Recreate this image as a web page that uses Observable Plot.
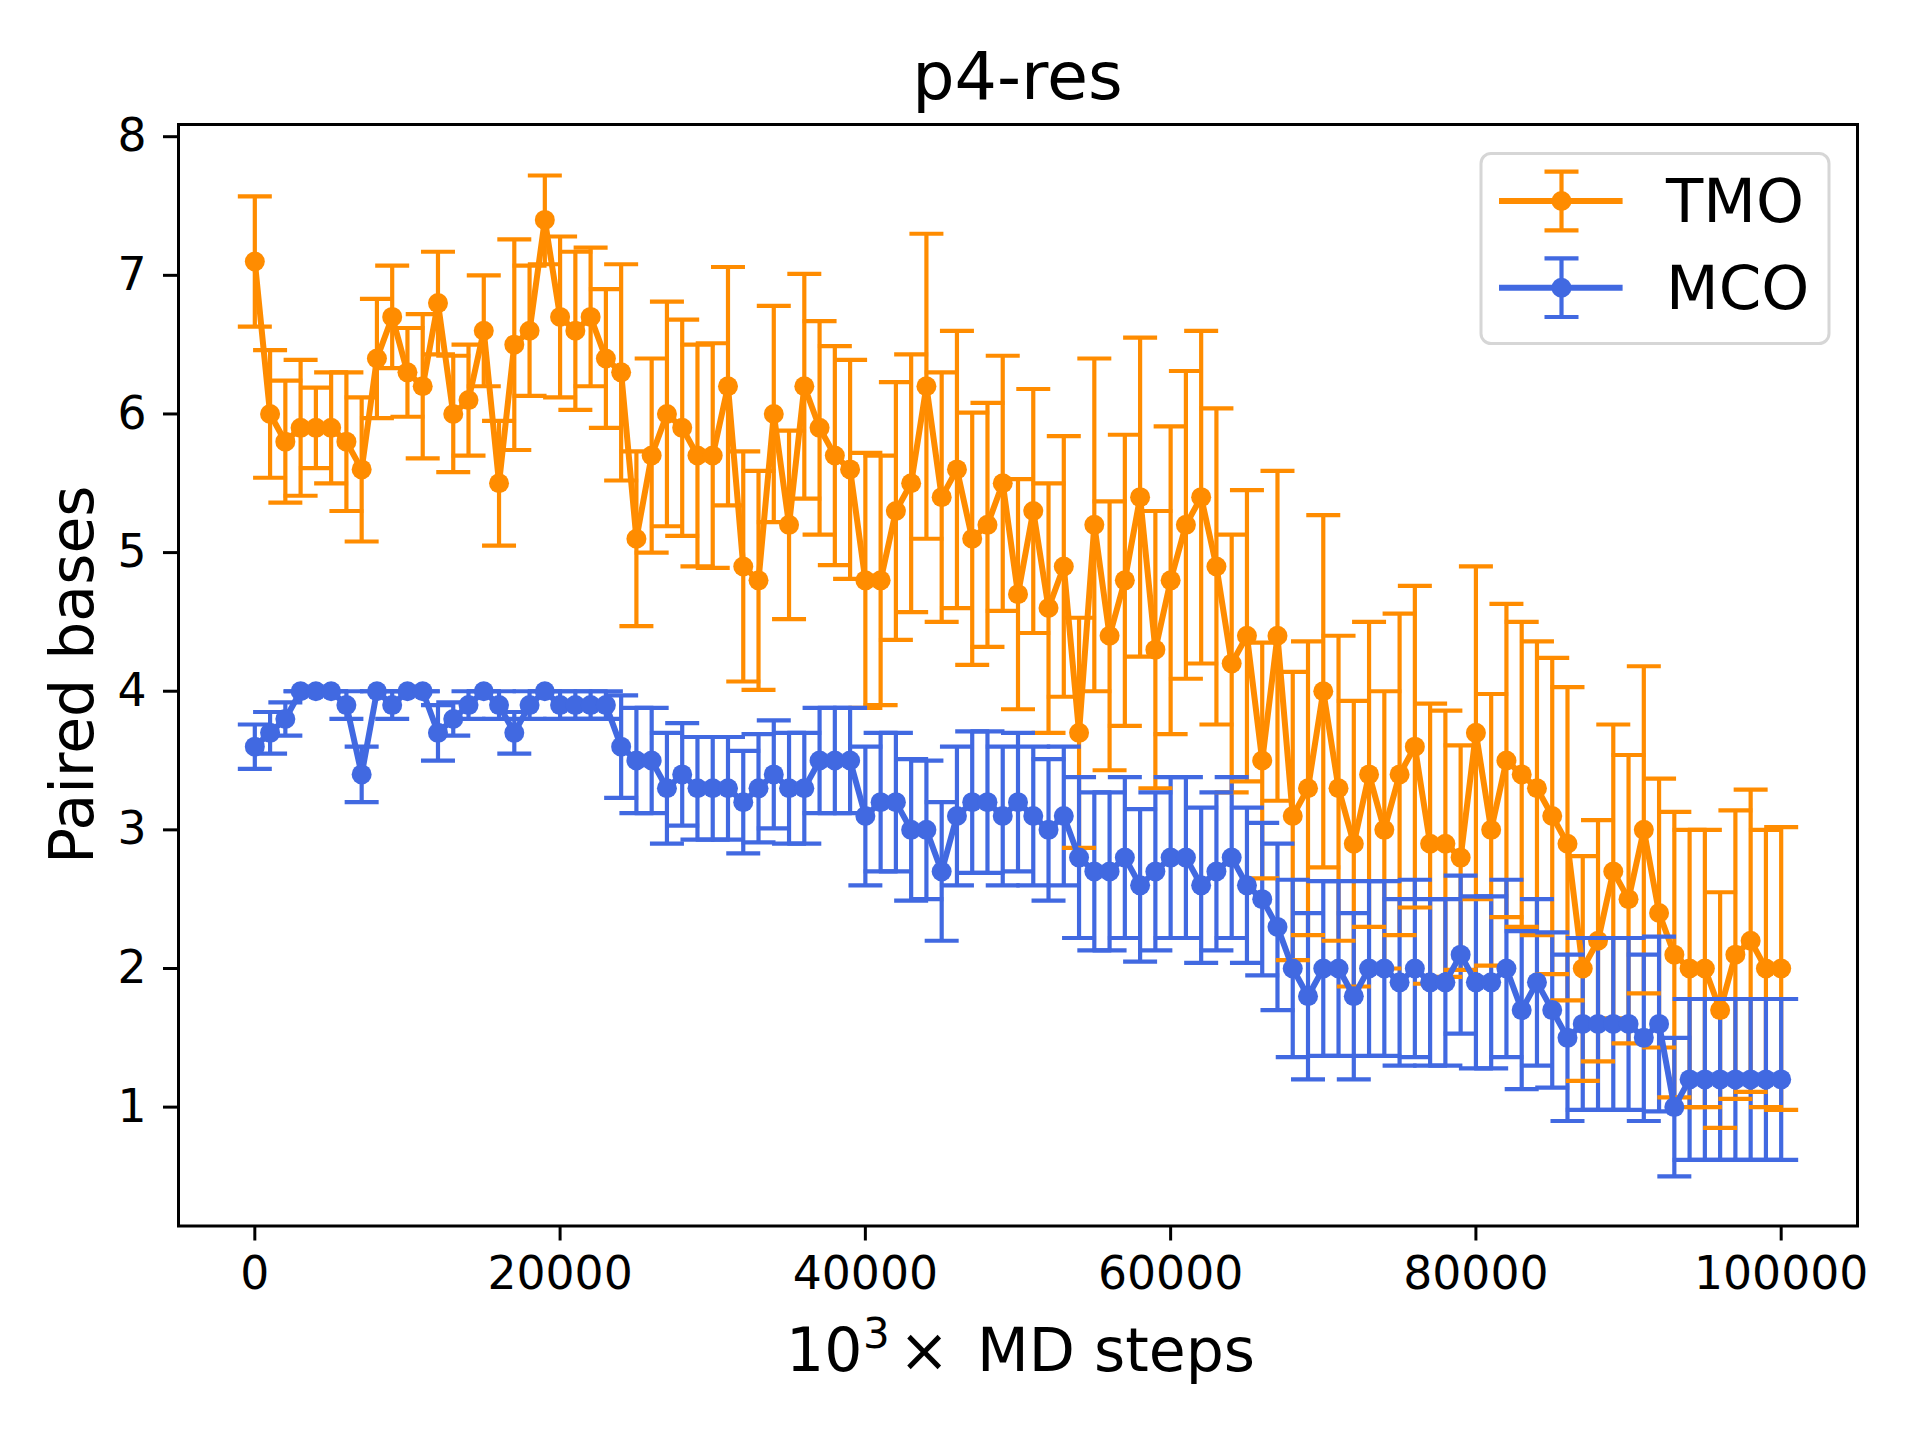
<!DOCTYPE html>
<html>
<head>
<meta charset="utf-8">
<script src="https://cdn.jsdelivr.net/npm/d3@7"></script>
<script src="https://cdn.jsdelivr.net/npm/@observablehq/plot@0.6"></script>
<style>
  html, body { margin: 0; padding: 0; background: #ffffff; }
  #chart svg { display: block; }
</style>
</head>
<body>
<div id="chart"></div>
<script>
// ---------- data ----------
const steps = [
  0,1000,2000,3000,4000,5000,6000,7000,8000,9000,
  10000,11000,12000,13000,14000,15000,16000,17000,18000,19000,
  20000,21000,22000,23000,24000,25000,26000,27000,28000,29000,
  30000,31000,32000,33000,34000,35000,36000,37000,38000,39000,
  40000,41000,42000,43000,44000,45000,46000,47000,48000,49000,
  50000,51000,52000,53000,54000,55000,56000,57000,58000,59000,
  60000,61000,62000,63000,64000,65000,66000,67000,68000,69000,
  70000,71000,72000,73000,74000,75000,76000,77000,78000,79000,
  80000,81000,82000,83000,84000,85000,86000,87000,88000,89000,
  90000,91000,92000,93000,94000,95000,96000,97000,98000,99000,
  100000
];

const tmoMean = [
  7.1,6.0,5.8,5.9,5.9,5.9,5.8,5.6,6.4,6.7,
  6.3,6.2,6.8,6.0,6.1,6.6,5.5,6.5,6.6,7.4,
  6.7,6.6,6.7,6.4,6.3,5.1,5.7,6.0,5.9,5.7,
  5.7,6.2,4.9,4.8,6.0,5.2,6.2,5.9,5.7,5.6,
  4.8,4.8,5.3,5.5,6.2,5.4,5.6,5.1,5.2,5.5,
  4.7,5.3,4.6,4.9,3.7,5.2,4.4,4.8,5.4,4.3,
  4.8,5.2,5.4,4.9,4.2,4.4,3.5,4.4,3.1,3.3,
  4.0,3.3,2.9,3.4,3.0,3.4,3.6,2.9,2.9,2.8,
  3.7,3.0,3.5,3.4,3.3,3.1,2.9,2.0,2.2,2.7,
  2.5,3.0,2.4,2.1,2.0,2.0,1.7,2.1,2.2,2.0,
  2.0
];

const tmoErr = [
  0.47,0.46,0.44,0.49,0.29,0.40,0.50,0.52,0.43,0.37,
  0.32,0.52,0.37,0.42,0.40,0.40,0.45,0.76,0.47,0.32,
  0.58,0.57,0.50,0.50,0.78,0.63,0.70,0.81,0.78,0.80,
  0.81,0.86,0.83,0.79,0.78,0.68,0.81,0.77,0.79,0.79,
  0.92,0.90,0.93,0.93,1.10,0.90,1.00,0.91,0.88,0.92,
  0.83,0.88,0.90,0.94,0.83,1.20,0.97,1.05,1.15,1.00,
  1.11,1.11,1.20,1.14,0.93,1.05,0.85,1.19,1.04,1.06,
  1.27,1.10,1.03,1.10,1.00,1.16,1.16,1.01,0.96,0.81,
  1.20,0.98,1.13,1.10,1.06,1.14,1.13,0.81,0.87,1.06,
  1.04,1.18,0.97,1.03,1.00,1.00,0.85,1.04,1.09,1.00,
  1.02
];

const mcoMean = [
  3.6,3.7,3.8,4.0,4.0,4.0,3.9,3.4,4.0,3.9,
  4.0,4.0,3.7,3.8,3.9,4.0,3.9,3.7,3.9,4.0,
  3.9,3.9,3.9,3.9,3.6,3.5,3.5,3.3,3.4,3.3,
  3.3,3.3,3.2,3.3,3.4,3.3,3.3,3.5,3.5,3.5,
  3.1,3.2,3.2,3.0,3.0,2.7,3.1,3.2,3.2,3.1,
  3.2,3.1,3.0,3.1,2.8,2.7,2.7,2.8,2.6,2.7,
  2.8,2.8,2.6,2.7,2.8,2.6,2.5,2.3,2.0,1.8,
  2.0,2.0,1.8,2.0,2.0,1.9,2.0,1.9,1.9,2.1,
  1.9,1.9,2.0,1.7,1.9,1.7,1.5,1.6,1.6,1.6,
  1.6,1.5,1.6,1.0,1.2,1.2,1.2,1.2,1.2,1.2,
  1.2
];

const mcoErr = [
  0.16,0.15,0.12,0.00,0.00,0.00,0.10,0.20,0.00,0.10,
  0.00,0.00,0.20,0.12,0.10,0.00,0.10,0.15,0.10,0.00,
  0.10,0.10,0.10,0.10,0.37,0.38,0.38,0.40,0.37,0.37,
  0.37,0.37,0.37,0.39,0.39,0.40,0.40,0.38,0.38,0.38,
  0.50,0.50,0.50,0.51,0.50,0.50,0.50,0.51,0.51,0.50,
  0.50,0.50,0.51,0.50,0.58,0.57,0.57,0.58,0.55,0.57,
  0.58,0.58,0.56,0.57,0.58,0.56,0.55,0.60,0.64,0.60,
  0.63,0.63,0.60,0.63,0.63,0.60,0.64,0.60,0.60,0.57,
  0.62,0.62,0.64,0.57,0.60,0.56,0.60,0.62,0.62,0.62,
  0.62,0.60,0.63,0.50,0.58,0.58,0.58,0.58,0.58,0.58,
  0.58
];

const seriesNames = ["TMO", "MCO"];
const xTicks = [0, 20000, 40000, 60000, 80000, 100000];
const yTicks = [1, 2, 3, 4, 5, 6, 7, 8];
const titleText = "p4-res";
const yLabelText = "Paired bases";

// ---------- styles ----------
const ORANGE = "#ff8c00";
const BLUE = "#4169e1";
const FONT = "DejaVu Sans";

const toRows = (means, errs) => steps.map((s, i) => ({
  step: s, mean: means[i], lo: means[i] - errs[i], hi: means[i] + errs[i]
}));
const tmoRows = toRows(tmoMean, tmoErr);
const mcoRows = toRows(mcoMean, mcoErr);

// horizontal cap symbol (half-width = r)
const capSymbol = {
  draw(ctx, size) {
    const w = Math.sqrt(size / Math.PI);
    ctx.moveTo(-w, 0);
    ctx.lineTo(w, 0);
  }
};

const CAP_R = 17, BAR_W = 4.2, LINE_W = 6, DOT_R = 10;

const capsFor = (rows, color) => [
  Plot.dot(rows, {x: "step", y: "lo", symbol: capSymbol, r: CAP_R, stroke: color, strokeWidth: BAR_W, fill: "none"}),
  Plot.dot(rows, {x: "step", y: "hi", symbol: capSymbol, r: CAP_R, stroke: color, strokeWidth: BAR_W, fill: "none"})
];
const lineFor = (rows, color) => [
  Plot.line(rows, {x: "step", y: "mean", stroke: color, strokeWidth: LINE_W, strokeLinejoin: "round"}),
  Plot.dot(rows, {x: "step", y: "mean", r: DOT_R, fill: color, stroke: "none"})
];

const W = 1920, H = 1440;
const mL = 178, mR = 63, mT = 124, mB = 214.5;

const svg = Plot.plot({
  width: W,
  height: H,
  marginLeft: mL,
  marginRight: mR,
  marginTop: mT,
  marginBottom: mB,
  style: {fontFamily: FONT, background: "#ffffff", color: "#000000"},
  x: {domain: [-5000, 105000]},
  y: {domain: [0.1425, 8.088]},
  marks: [
    Plot.ruleX(tmoRows, {x: "step", y1: "lo", y2: "hi", stroke: ORANGE, strokeWidth: BAR_W}),
    Plot.ruleX(mcoRows, {x: "step", y1: "lo", y2: "hi", stroke: BLUE, strokeWidth: BAR_W}),
    ...capsFor(tmoRows, ORANGE),
    ...lineFor(tmoRows, ORANGE),
    ...capsFor(mcoRows, BLUE),
    ...lineFor(mcoRows, BLUE),
    Plot.axisX({ticks: xTicks, tickFormat: d => String(d), tickSize: 15, tickPadding: 16,
                fontSize: 45.7, strokeWidth: 3, label: null}),
    Plot.axisY({ticks: yTicks, tickFormat: d => String(d), tickSize: 15, tickPadding: 17,
                fontSize: 45.7, strokeWidth: 3, label: null}),
    Plot.frame({stroke: "#000000", strokeWidth: 3})
  ]
});

const s = d3.select(svg);
const plotCx = (mL + (W - mR)) / 2;

// title
s.append("text")
  .attr("x", plotCx).attr("y", 99.3)
  .attr("text-anchor", "middle")
  .attr("font-family", FONT).attr("font-size", 66.7).attr("fill", "#000")
  .text(titleText);

// x label: 10^3 ×  MD steps
const xl = s.append("text")
  .attr("y", 1371)
  .attr("text-anchor", "start")
  .attr("font-family", FONT).attr("font-size", 60).attr("fill", "#000");
xl.append("tspan").attr("x", 786).text("10");
xl.append("tspan").attr("x", 863).attr("font-size", 42).attr("dy", -23).text("3");
xl.append("tspan").attr("x", 899).attr("dy", 23).text("\u00d7");
xl.append("tspan").attr("x", 977).text("MD steps");

// y label
s.append("text")
  .attr("transform", `translate(93,${(mT + (H - mB)) / 2}) rotate(-90)`)
  .attr("text-anchor", "middle")
  .attr("font-family", FONT).attr("font-size", 60).attr("fill", "#000")
  .text(yLabelText);

// legend
const lg = s.append("g");
lg.append("rect")
  .attr("x", 1481).attr("y", 153.5).attr("width", 348).attr("height", 190)
  .attr("rx", 10).attr("ry", 10)
  .attr("fill", "#ffffff").attr("fill-opacity", 0.8)
  .attr("stroke", "#d6d6d6").attr("stroke-width", 3);

const legendItems = [
  {name: seriesNames[0], color: ORANGE, y: 201},
  {name: seriesNames[1], color: BLUE, y: 287.7}
];
legendItems.forEach(it => {
  const g = lg.append("g");
  g.append("line").attr("x1", 1499).attr("x2", 1622.6).attr("y1", it.y).attr("y2", it.y)
    .attr("stroke", it.color).attr("stroke-width", LINE_W);
  g.append("line").attr("x1", 1561.5).attr("x2", 1561.5).attr("y1", it.y - 29.3).attr("y2", it.y + 29.3)
    .attr("stroke", it.color).attr("stroke-width", BAR_W);
  [-29.3, 29.3].forEach(dy => {
    g.append("line").attr("x1", 1561.5 - CAP_R).attr("x2", 1561.5 + CAP_R)
      .attr("y1", it.y + dy).attr("y2", it.y + dy)
      .attr("stroke", it.color).attr("stroke-width", BAR_W);
  });
  g.append("circle").attr("cx", 1561.5).attr("cy", it.y).attr("r", DOT_R).attr("fill", it.color);
  g.append("text").attr("x", 1666).attr("y", it.y + 21)
    .attr("text-anchor", "start")
    .attr("font-family", FONT).attr("font-size", 61).attr("fill", "#000")
    .text(it.name);
});

document.getElementById("chart").appendChild(svg);
</script>
</body>
</html>
